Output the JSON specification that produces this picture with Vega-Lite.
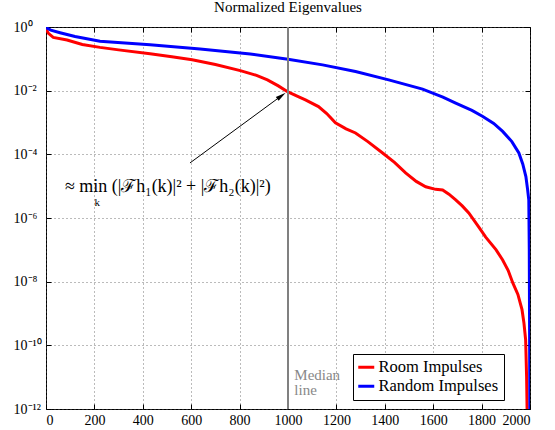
{
  "$schema": "https://vega.github.io/schema/vega-lite/v6.json",
  "width": 484,
  "height": 382,
  "autosize": {"type": "none"},
  "padding": {"left": 46, "top": 27, "right": 25, "bottom": 21},
  "title": {"text": "Normalized Eigenvalues", "font": "Liberation Serif", "fontSize": 15, "fontWeight": "normal", "color": "black", "offset": 5},
  "config": {
    "view": {"stroke": "black", "strokeWidth": 1},
    "axis": {"labelFont": "Liberation Serif", "labelFontSize": 14, "labelColor": "black", "domainColor": "black", "tickColor": "black", "grid": true, "gridDash": [1, 3], "gridColor": "#555", "gridOpacity": 0.8},
    "legend": {"labelFont": "Liberation Serif", "labelFontSize": 16.5, "labelColor": "black"}
  },
  "resolve": {"axis": {"x": "independent", "y": "independent"}},
  "datasets": {
    "eig": [
      {"k": 0, "v": 0.87, "s": "Room Impulses"},
      {"k": 10, "v": 0.63, "s": "Room Impulses"},
      {"k": 30, "v": 0.47, "s": "Room Impulses"},
      {"k": 87, "v": 0.39, "s": "Room Impulses"},
      {"k": 150, "v": 0.282, "s": "Room Impulses"},
      {"k": 223, "v": 0.229, "s": "Room Impulses"},
      {"k": 300, "v": 0.191, "s": "Room Impulses"},
      {"k": 430, "v": 0.145, "s": "Room Impulses"},
      {"k": 520, "v": 0.117, "s": "Room Impulses"},
      {"k": 604, "v": 0.0933, "s": "Room Impulses"},
      {"k": 700, "v": 0.0661, "s": "Room Impulses"},
      {"k": 803, "v": 0.0427, "s": "Room Impulses"},
      {"k": 870, "v": 0.0302, "s": "Room Impulses"},
      {"k": 915, "v": 0.0219, "s": "Room Impulses"},
      {"k": 960, "v": 0.0141, "s": "Room Impulses"},
      {"k": 1000, "v": 0.00912, "s": "Room Impulses"},
      {"k": 1040, "v": 0.00661, "s": "Room Impulses"},
      {"k": 1072, "v": 0.00513, "s": "Room Impulses"},
      {"k": 1126, "v": 0.00316, "s": "Room Impulses"},
      {"k": 1160, "v": 0.00191, "s": "Room Impulses"},
      {"k": 1196, "v": 9.77e-4, "s": "Room Impulses"},
      {"k": 1240, "v": 6.31e-4, "s": "Room Impulses"},
      {"k": 1279, "v": 4.68e-4, "s": "Room Impulses"},
      {"k": 1330, "v": 2.51e-4, "s": "Room Impulses"},
      {"k": 1391, "v": 1.1e-4, "s": "Room Impulses"},
      {"k": 1440, "v": 5.62e-5, "s": "Room Impulses"},
      {"k": 1486, "v": 2.63e-5, "s": "Room Impulses"},
      {"k": 1530, "v": 1.41e-5, "s": "Room Impulses"},
      {"k": 1569, "v": 9.55e-6, "s": "Room Impulses"},
      {"k": 1610, "v": 7.94e-6, "s": "Room Impulses"},
      {"k": 1639, "v": 7.59e-6, "s": "Room Impulses"},
      {"k": 1665, "v": 5.62e-6, "s": "Room Impulses"},
      {"k": 1693, "v": 3.72e-6, "s": "Room Impulses"},
      {"k": 1720, "v": 2.4e-6, "s": "Room Impulses"},
      {"k": 1747, "v": 1.45e-6, "s": "Room Impulses"},
      {"k": 1790, "v": 5.01e-7, "s": "Room Impulses"},
      {"k": 1817, "v": 2.51e-7, "s": "Room Impulses"},
      {"k": 1860, "v": 1e-7, "s": "Room Impulses"},
      {"k": 1887, "v": 4.79e-8, "s": "Room Impulses"},
      {"k": 1910, "v": 2.24e-8, "s": "Room Impulses"},
      {"k": 1929, "v": 9.12e-9, "s": "Room Impulses"},
      {"k": 1950, "v": 3.98e-9, "s": "Room Impulses"},
      {"k": 1967, "v": 1.32e-9, "s": "Room Impulses"},
      {"k": 1975, "v": 5.0e-10, "s": "Room Impulses"},
      {"k": 1982, "v": 1.5e-10, "s": "Room Impulses"},
      {"k": 1986, "v": 1.0e-11, "s": "Room Impulses"},
      {"k": 1989, "v": 3.0e-13, "s": "Room Impulses"},
      {"k": 0, "v": 0.955, "s": "Random Impulses"},
      {"k": 20, "v": 0.794, "s": "Random Impulses"},
      {"k": 58, "v": 0.661, "s": "Random Impulses"},
      {"k": 120, "v": 0.501, "s": "Random Impulses"},
      {"k": 223, "v": 0.355, "s": "Random Impulses"},
      {"k": 430, "v": 0.275, "s": "Random Impulses"},
      {"k": 637, "v": 0.204, "s": "Random Impulses"},
      {"k": 844, "v": 0.141, "s": "Random Impulses"},
      {"k": 1000, "v": 0.0977, "s": "Random Impulses"},
      {"k": 1143, "v": 0.0646, "s": "Random Impulses"},
      {"k": 1279, "v": 0.0398, "s": "Random Impulses"},
      {"k": 1416, "v": 0.0219, "s": "Random Impulses"},
      {"k": 1556, "v": 0.0112, "s": "Random Impulses"},
      {"k": 1640, "v": 0.00631, "s": "Random Impulses"},
      {"k": 1693, "v": 0.00407, "s": "Random Impulses"},
      {"k": 1760, "v": 0.0024, "s": "Random Impulses"},
      {"k": 1805, "v": 0.00155, "s": "Random Impulses"},
      {"k": 1850, "v": 9.33e-4, "s": "Random Impulses"},
      {"k": 1887, "v": 5.25e-4, "s": "Random Impulses"},
      {"k": 1925, "v": 2.51e-4, "s": "Random Impulses"},
      {"k": 1954, "v": 1.1e-4, "s": "Random Impulses"},
      {"k": 1970, "v": 5.01e-5, "s": "Random Impulses"},
      {"k": 1983, "v": 2e-5, "s": "Random Impulses"},
      {"k": 1990, "v": 7.94e-6, "s": "Random Impulses"},
      {"k": 1995, "v": 3.72e-6, "s": "Random Impulses"},
      {"k": 1997, "v": 1e-7, "s": "Random Impulses"},
      {"k": 1998, "v": 1e-9, "s": "Random Impulses"},
      {"k": 1999, "v": 1e-11, "s": "Random Impulses"},
      {"k": 2000, "v": 1e-13, "s": "Random Impulses"}
    ],
    "median": [{"k": 1000}],
    "arrow": [{"k": 595, "v": 5.37e-5, "k2": 973, "v2": 6.9e-3}],
    "head": [{"k": 973, "v": 6.9e-3}],
    "formula": [
      {"k": 78, "v": 9.3e-6, "t": "≈ min (|ℱh₁(k)|² + |ℱh₂(k)|²)", "sz": 18, "st": "normal"},
      {"k": 200, "v": 3.0e-6, "t": "k", "sz": 11, "st": "italic"}
    ],
    "medtext": [
      {"k": 1026, "v": 1.2e-11, "t": "Median"},
      {"k": 1026, "v": 4.0e-12, "t": "line"}
    ]
  },
  "layer": [
    {
      "data": {"name": "eig"},
      "mark": {"type": "line", "strokeWidth": 3, "clip": true},
      "encoding": {
        "x": {"field": "k", "type": "quantitative", "title": null, "scale": {"domain": [0, 2000], "nice": false, "zero": false},
          "axis": {"orient": "bottom", "values": [0, 200, 400, 600, 800, 1000, 1200, 1400, 1600, 1800, 2000], "format": "d", "tickSize": -5, "labelPadding": 9, "domain": false}},
        "y": {"field": "v", "type": "quantitative", "title": null, "scale": {"type": "log", "domain": [1e-12, 1], "nice": false},
          "axis": {"orient": "left", "values": [1e-12, 1e-10, 1e-8, 1e-6, 1e-4, 1e-2, 1], "tickSize": -5, "labelPadding": 38, "labelAlign": "left", "domain": false,
            "labelExpr": "'10' + (round(log(datum.value)/LN10) == 0 ? '⁰' : '⁻' + ({'2':'²','4':'⁴','6':'⁶','8':'⁸','10':'¹⁰','12':'¹²'})[''+(-round(log(datum.value)/LN10))])"}},
        "color": {"field": "s", "type": "nominal", "scale": {"domain": ["Room Impulses", "Random Impulses"], "range": ["#ff0000", "#0000ff"]},
          "legend": {"title": null, "orient": "none", "legendX": 307, "legendY": 327, "strokeColor": "black", "fillColor": "white", "padding": 5, "symbolType": "M-1.6,0H1.6", "symbolStrokeWidth": 3, "symbolSize": 100, "rowPadding": 2, "labelOffset": 4}},
        "order": {"field": "k", "type": "quantitative"}
      }
    },
    {
      "data": {"name": "median"},
      "mark": {"type": "rule", "color": "#808080", "strokeWidth": 2},
      "encoding": {
        "x": {"field": "k", "type": "quantitative", "title": null,
          "axis": {"orient": "top", "values": [0, 200, 400, 600, 800, 1000, 1200, 1400, 1600, 1800, 2000], "labels": false, "grid": false, "domain": false, "tickSize": -5}}
      }
    },
    {
      "data": {"name": "arrow"},
      "mark": {"type": "rule", "color": "black", "strokeWidth": 1},
      "encoding": {
        "x": {"field": "k", "type": "quantitative", "title": null, "axis": null},
        "y": {"field": "v", "type": "quantitative", "title": null, "scale": {"type": "log"},
          "axis": {"orient": "right", "values": [1e-12, 1e-10, 1e-8, 1e-6, 1e-4, 1e-2, 1], "labels": false, "grid": false, "domain": false, "tickSize": -5}},
        "x2": {"field": "k2"},
        "y2": {"field": "v2"}
      }
    },
    {
      "data": {"name": "head"},
      "mark": {"type": "point", "shape": "M0,-1L-0.45,1L0.45,1Z", "filled": true, "color": "black", "opacity": 1, "size": 110, "angle": 53.6},
      "encoding": {
        "x": {"field": "k", "type": "quantitative", "title": null, "axis": null},
        "y": {"field": "v", "type": "quantitative", "title": null, "scale": {"type": "log"}, "axis": null}
      }
    },
    {
      "data": {"name": "formula"},
      "mark": {"type": "text", "align": "left", "baseline": "middle", "font": "Liberation Serif", "color": "black"},
      "encoding": {
        "x": {"field": "k", "type": "quantitative", "title": null, "axis": null},
        "y": {"field": "v", "type": "quantitative", "title": null, "scale": {"type": "log"}, "axis": null},
        "text": {"field": "t"},
        "size": {"field": "sz", "type": "quantitative", "scale": null},
        "fontStyle": {"field": "st"}
      }
    },
    {
      "data": {"name": "medtext"},
      "mark": {"type": "text", "align": "left", "baseline": "middle", "font": "Liberation Serif", "color": "#888888", "fontSize": 15},
      "encoding": {
        "x": {"field": "k", "type": "quantitative", "title": null, "axis": null},
        "y": {"field": "v", "type": "quantitative", "title": null, "scale": {"type": "log"}, "axis": null},
        "text": {"field": "t"}
      }
    }
  ]
}
